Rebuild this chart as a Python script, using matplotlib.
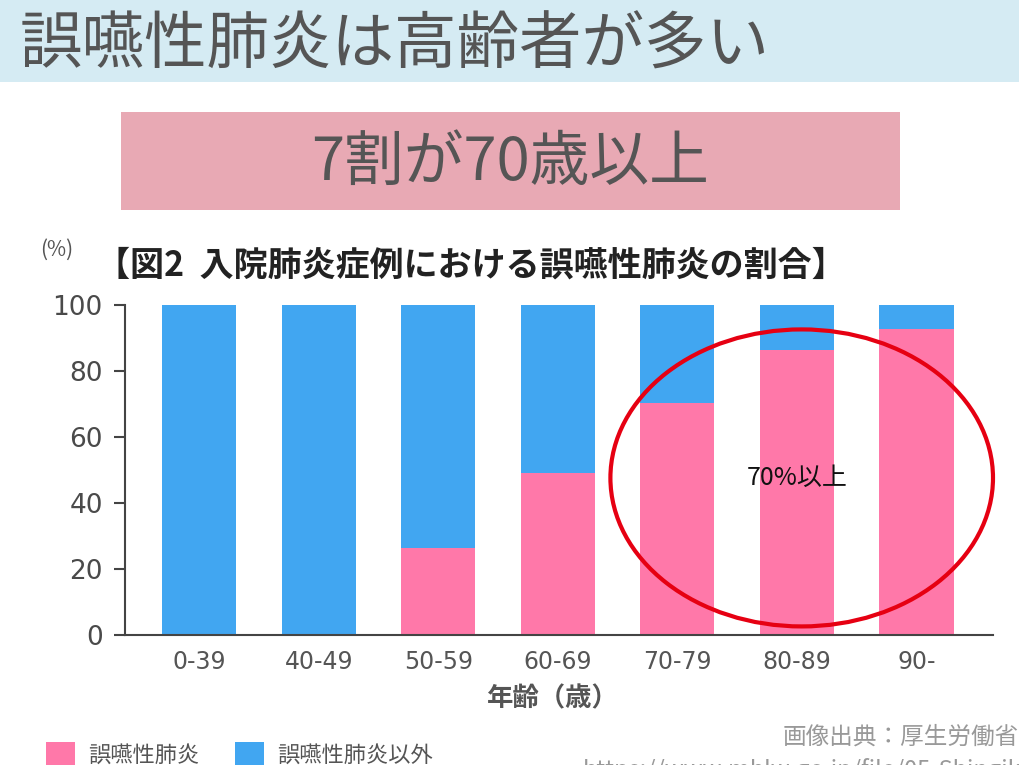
"""
誤嚥性肺炎は高齢者が多い - stacked bar chart.
"""

import matplotlib

matplotlib.use("Agg")

import matplotlib.pyplot as plt
from matplotlib.patches import Ellipse, Rectangle


# ==========================================================
# Data
# ==========================================================

age_groups = ["0-39", "40-49", "50-59", "60-69", "70-79", "80-89", "90-"]
aspiration = [0, 0, 26.5, 49.0, 70.3, 86.4, 92.7]
other = [100, 100, 73.5, 51.0, 29.7, 13.6, 7.3]

y_ticks = [0, 20, 40, 60, 80, 100]

PINK = "#ff78a9"
BLUE = "#41a6f1"
GRAY = "#555555"

plt.rcParams["font.family"] = ["Noto Sans CJK JP", "DejaVu Sans"]


# ==========================================================
# Figure
# ==========================================================

W, H = 1019, 765
fig = plt.figure(figsize=(W / 100, H / 100), dpi=100)
fig.patch.set_facecolor("white")


def fx(px):
    return px / W


def fy(py):
    return 1 - py / H


# header band
fig.patches.append(
    Rectangle((0, fy(82)), 1, 82 / H, transform=fig.transFigure,
              facecolor="#d5ebf3", edgecolor="none", zorder=0)
)
fig.text(fx(20), fy(46), "誤嚥性肺炎は高齢者が多い",
         fontsize=45, color=GRAY, ha="left", va="center")

# pink box
fig.patches.append(
    Rectangle((fx(121), fy(210)), fx(900) - fx(121), 98 / H,
              transform=fig.transFigure,
              facecolor="#e8a9b4", edgecolor="none", zorder=0)
)
fig.text(fx(510), fy(163), "7割が70歳以上",
         fontsize=43, color=GRAY, ha="center", va="center")

# chart title
fig.text(fx(40), fy(250), "(%)", fontsize=15, color=GRAY,
         ha="left", va="center")
fig.text(fx(96), fy(265), "【図2  入院肺炎症例における誤嚥性肺炎の割合】",
         fontsize=24.5, color="#222222", fontweight="bold",
         ha="left", va="center")


# ==========================================================
# Bars
# ==========================================================

ax = fig.add_axes([fx(125), fy(635), fx(993) - fx(125), (635 - 305) / H])

x = range(len(age_groups))

ax.bar(x, aspiration, width=0.62, color=PINK, label="誤嚥性肺炎")
ax.bar(x, other, width=0.62, bottom=aspiration, color=BLUE,
       label="誤嚥性肺炎以外")

ax.set_xlim(-0.62, 6.64)
ax.set_ylim(0, 100)

ax.set_yticks(y_ticks)
ax.set_yticklabels([str(v) for v in y_ticks],
                   fontsize=19, color="#4a4a4a", family="DejaVu Sans")
ax.set_xticks(list(x))
ax.set_xticklabels(age_groups, fontsize=17, color=GRAY,
                   family="DejaVu Sans")

ax.tick_params(axis="y", length=8, width=1.5, color="#444444", pad=8)
ax.tick_params(axis="x", length=0, pad=11)

for side in ["top", "right"]:
    ax.spines[side].set_visible(False)
for side in ["left", "bottom"]:
    ax.spines[side].set_color("#444444")
    ax.spines[side].set_linewidth(1.5)

# highlight
ax.add_patch(
    Ellipse((5.04, 47.6), 3.2, 90, facecolor="none",
            edgecolor="#e60012", linewidth=3, clip_on=False, zorder=5)
)
ax.text(5.0, 47.5, "70%以上", fontsize=18, color="#111111",
        ha="center", va="center", zorder=6)

fig.text(fx(553), fy(699), "年齢（歳）", fontsize=19, color=GRAY,
         fontweight="bold", ha="center", va="center")


# ==========================================================
# Legend & source
# ==========================================================

fig.legend(
    loc="upper left",
    bbox_to_anchor=(fx(26), fy(722)),
    ncol=2,
    frameon=False,
    fontsize=16,
    handlelength=1.3,
    handleheight=1.3,
    handletextpad=0.6,
    columnspacing=1.6,
    labelcolor=GRAY,
)

fig.text(1.0, fy(737), "画像出典：厚生労働省", fontsize=17,
         color="#999999", ha="right", va="center")
fig.text(fx(583), fy(770),
         "https://www.mhlw.go.jp/file/05-Shingikai-12601000/0000051233.pdf",
         fontsize=17, color="#999999", ha="left", va="center")

fig.savefig("out.png", dpi=100)
